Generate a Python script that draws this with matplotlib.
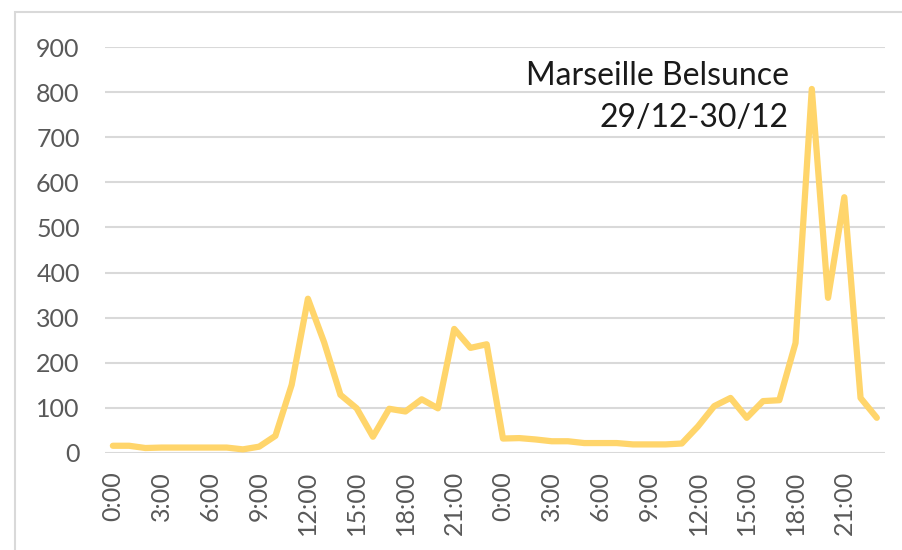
import matplotlib.pyplot as plt
from matplotlib.patches import Rectangle

# Données horaires, deux jours (29/12 et 30/12)
heures = [f"{h}:00" for h in range(24)] * 2
valeurs = [
    16, 16, 11, 12, 12, 12, 12, 12, 8, 14, 38, 151,
    342, 245, 129, 99, 36, 98, 92, 119, 99, 275, 233, 241,
    32, 33, 30, 26, 26, 22, 22, 22, 19, 19, 19, 21,
    59, 104, 122, 78, 115, 117, 244, 807, 344, 567, 122, 78,
]
titre = "Marseille Belsunce\n29/12-30/12"

plt.rcParams["font.family"] = ["Lato", "DejaVu Sans"]

fig = plt.figure(figsize=(9.03, 5.5), dpi=100)
ax = fig.add_axes([0.116, 0.1764, 0.864, 0.7381])

x = list(range(len(valeurs)))
ax.plot(x, valeurs, color="#FFD56B", linewidth=4.5, solid_joinstyle="round",
        solid_capstyle="round", zorder=3)

ax.set_ylim(0, 900)
ax.set_xlim(-0.5, len(valeurs) - 0.5)
ax.set_yticks(range(0, 1000, 100))
ax.set_xticks(x[::3])
ax.set_xticklabels(heures[::3], rotation=90)
ax.grid(axis="y", color="#D9D9D9", linewidth=1.5)
ax.set_axisbelow(True)
for s in ax.spines.values():
    s.set_visible(False)
ax.tick_params(length=0, labelsize=18, colors="#595959")
ax.tick_params(axis="y", pad=18)
ax.tick_params(axis="x", pad=13)

fig.text(789 / 903, 1 - 97 / 550, titre, ha="right", va="center",
         multialignment="right", fontsize=23, color="#1A1A1A", linespacing=1.5)

# Cadre du graphique
fig.patches.append(Rectangle((15 / 903, -0.1), 1.2, 1.1 - 12 / 550,
                             transform=fig.transFigure, fill=False,
                             edgecolor="#D9D9D9", linewidth=1.5))

fig.savefig("out.png", dpi=100)
